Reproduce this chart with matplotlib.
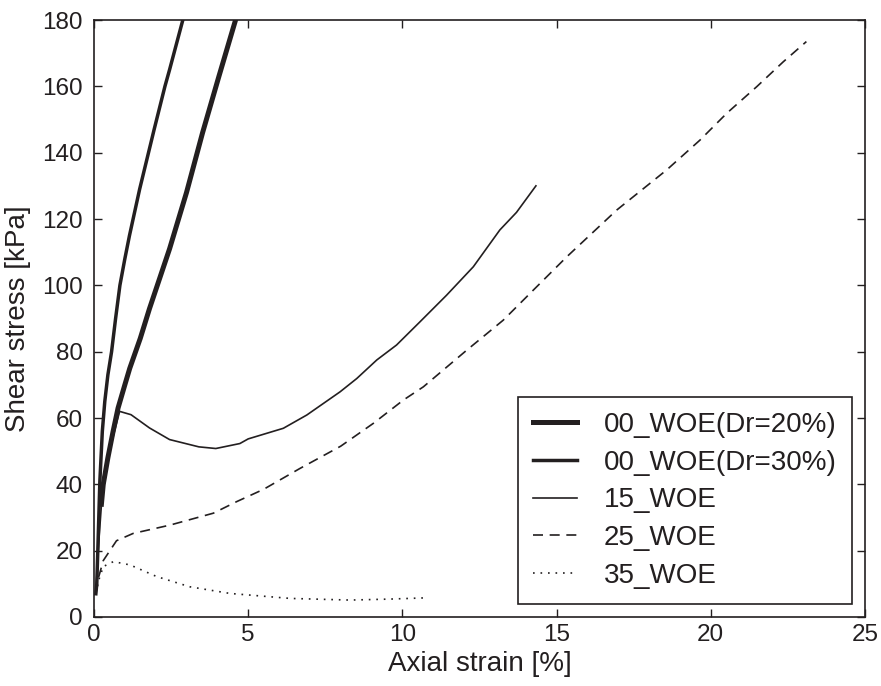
import matplotlib
matplotlib.use("Agg")
import matplotlib.pyplot as plt

plt.rcParams['font.family'] = ['Liberation Sans', 'DejaVu Sans']

# strain [%], shear stress [kPa]
dr20_strain = [0.24, 0.30, 0.45, 0.62, 0.78, 1.0, 1.16, 1.5, 1.8, 2.45, 3.0, 3.52, 4.05, 4.59]
dr20_stress = [34, 40, 48, 56, 63, 70, 75, 84, 93, 111, 128, 146, 163, 180]

dr30_strain = [0.06, 0.09, 0.13, 0.19, 0.27, 0.35, 0.45, 0.57, 0.7, 0.84, 1.0, 1.15, 1.48,
               1.95, 2.3, 2.45, 2.88]
dr30_stress = [7, 10, 22, 41, 56, 65, 73, 80, 90, 100, 108, 115, 129, 147, 160, 165, 180]

woe15_strain = [0.06, 0.15, 0.25, 0.5, 0.83, 1.2, 1.8, 2.45, 3.4, 3.95, 4.73, 5.0, 6.14,
                6.9, 7.98, 8.52, 9.17, 9.81, 10.57, 11.43, 12.3, 13.16, 13.7, 14.33]
woe15_stress = [7, 22, 35, 50, 62, 61, 57, 53.5, 51.3, 50.8, 52.3, 53.7, 56.9,
                60.9, 67.9, 71.9, 77.5, 82, 89, 97, 105.6, 116.7, 122, 130]

woe25_strain = [0.06, 0.15, 0.3, 0.73, 1.27, 2.46, 3.87, 4.63, 5.5, 6.68, 8.0, 9.06, 10.03,
                10.68, 12.08, 13.27, 14.25, 15.33, 16.95, 18.57, 19.65, 20.52, 21.49,
                22.35, 23.1]
woe25_stress = [7, 12, 17, 23, 25.2, 27.7, 31.3, 34.8, 38.5, 44.8, 51.5, 58.4, 65.4,
                69.4, 80.4, 89.5, 98.6, 108.6, 122.7, 134.8, 143.8, 151.9, 159.9,
                167.4, 173.5]

woe35_strain = [0.06, 0.15, 0.3, 0.63, 1.17, 2.03, 3.11, 4.41, 6.36, 8.3, 9.6, 10.84]
woe35_stress = [7, 11, 15.2, 16.7, 15.7, 12.2, 9.1, 7.1, 5.6, 5.1, 5.4, 5.8]

fig = plt.figure(figsize=(8.81, 6.86), dpi=100)
ax = fig.add_axes([0.1067, 0.1006, 0.8751, 0.8702])

ink = '#231f20'
ax.plot(dr20_strain, dr20_stress, color=ink, lw=3.6, label='00_WOE(Dr=20%)')
ax.plot(dr30_strain, dr30_stress, color=ink, lw=2.5, label='00_WOE(Dr=30%)')
ax.plot(woe15_strain, woe15_stress, color=ink, lw=1.2, label='15_WOE')
ax.plot(woe25_strain, woe25_stress, color=ink, lw=1.2, dashes=(6, 4), label='25_WOE')
ax.plot(woe35_strain, woe35_stress, color=ink, lw=1.2, linestyle=(0, (1, 3.5)), label='35_WOE')

ax.set_xlim(0, 25)
ax.set_ylim(0, 180)
ax.set_xticks(range(0, 26, 5))
ax.set_yticks(range(0, 181, 20))
ax.tick_params(direction='in', top=True, right=True, length=6, width=1,
               labelsize=17.5, colors=ink)
ax.tick_params(axis='y', pad=8)
ax.tick_params(axis='x', pad=5)
for s in ax.spines.values():
    s.set_color(ink)
    s.set_linewidth(1.2)

ax.set_xlabel('Axial strain [%]', fontsize=20, color=ink, labelpad=4)
ax.set_ylabel('Shear stress [kPa]', fontsize=20, color=ink, labelpad=8)

leg = ax.legend(loc='lower right', fontsize=20, frameon=True, fancybox=False,
                edgecolor=ink, framealpha=1, handlelength=1.6, handletextpad=0.95,
                borderpad=0.55, labelspacing=0.42, borderaxespad=0,
                bbox_to_anchor=(0.983, 0.022))
leg.get_frame().set_linewidth(1.2)
for t in leg.get_texts():
    t.set_color(ink)

fig.savefig('out.png', dpi=100)
